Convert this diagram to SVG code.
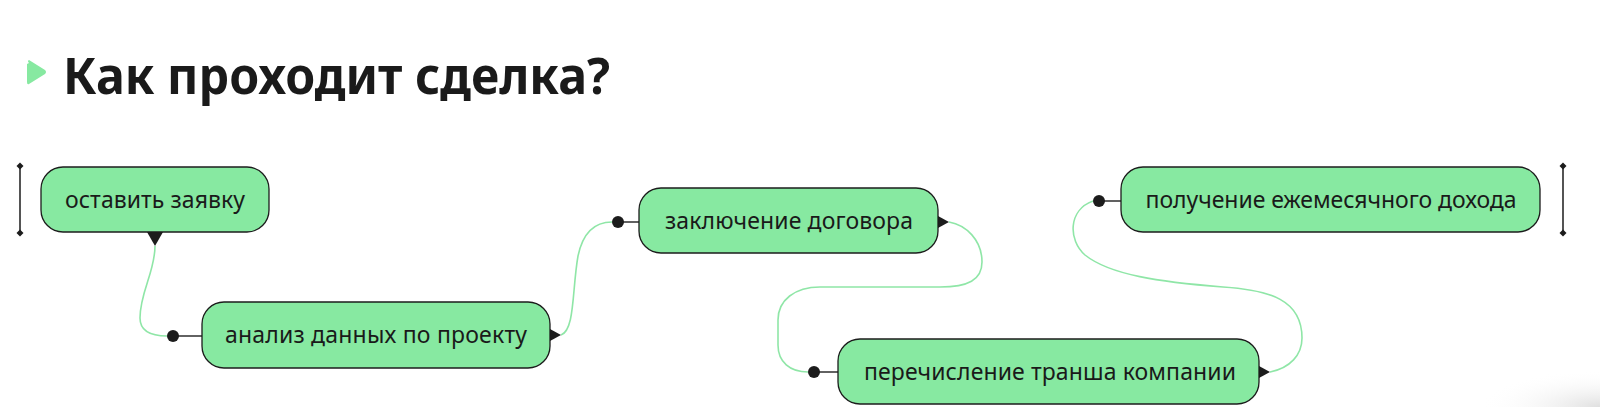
<svg xmlns="http://www.w3.org/2000/svg" width="1600" height="407" viewBox="0 0 1600 407">
<defs>
<style>
.node rect{fill:#87e9a1;stroke:#1c1c1c;stroke-width:1.3}
.node text{font-family:"Noto Sans","DejaVu Sans",sans-serif;font-size:23px;fill:#1a1a1a;text-anchor:middle}
.conn{fill:none;stroke:#8fe6a7;stroke-width:1.6}
.stub{stroke:#3a3a3a;stroke-width:1.6}
.dot{fill:#1c1c1c}
.arr{fill:#1c1c1c}
.br{stroke:#2a2a2a;stroke-width:1.6}
</style>
<path id="diam" d="M0,-3.5 L3.5,0 L0,3.5 L-3.5,0 Z" fill="#1c1c1c"/>
<radialGradient id="shadow" cx="1" cy="1" r="1">
<stop offset="0" stop-color="#dcdcdc" stop-opacity="0.9"/>
<stop offset="1" stop-color="#ffffff" stop-opacity="0"/>
</radialGradient>
</defs>
<rect width="1600" height="407" fill="#ffffff"/>
<rect x="1480" y="370" width="120" height="37" fill="url(#shadow)"/>

<g id="title">
<path d="M29,63 Q27,61 29,60 L45,70 Q47,72 45,74 L29,84 Q27,85 27,82 L27,64 Z" fill="#87e9a1"/>
<text x="63" y="94" font-family="'Noto Sans','DejaVu Sans',sans-serif" font-weight="700" font-size="51" fill="#1a1a1a" textLength="547" lengthAdjust="spacingAndGlyphs">Как проходит сделка?</text>
</g>

<g id="bracket-left">
<line class="br" x1="20" y1="166" x2="20" y2="233"/>
<use href="#diam" x="20" y="166"/>
<use href="#diam" x="20" y="233"/>
</g>
<g id="bracket-right">
<line class="br" x1="1563" y1="166" x2="1563" y2="233"/>
<use href="#diam" x="1563" y="166"/>
<use href="#diam" x="1563" y="233"/>
</g>

<g id="connectors">
<path class="conn" d="M155,246 C155,272 140,292 140,318 C140,332 152,336 167,336"/>
<path class="conn" d="M561,335 C575,330 572,290 578,256 C583,232 595,222 612,222"/>
<path class="conn" d="M949,222 C966,225 982,240 982,262 C982,280 968,287 940,287 L820,287 C795,287 778,300 778,320 L778,345 C778,362 790,372 808,372"/>
<path class="conn" d="M1270,372 C1290,368 1302,355 1302,338 C1302,300 1270,290 1223,287 C1160,282 1110,275 1085,255 C1068,240 1068,210 1093,201"/>
<line class="stub" x1="173" y1="336" x2="202" y2="336"/>
<line class="stub" x1="618" y1="222" x2="639" y2="222"/>
<line class="stub" x1="814" y1="372" x2="838" y2="372"/>
<line class="stub" x1="1099" y1="201" x2="1121" y2="201"/>
<circle class="dot" cx="173" cy="336" r="6"/>
<circle class="dot" cx="618" cy="222" r="6"/>
<circle class="dot" cx="814" cy="372" r="6"/>
<circle class="dot" cx="1099" cy="201" r="6"/>
<polygon class="arr" points="147,232 163,232 155,246"/>
<polygon class="arr" points="550,329 550,341 561,335"/>
<polygon class="arr" points="938,216 938,228 949,222"/>
<polygon class="arr" points="1259,366 1259,378 1270,372"/>
</g>

<g id="node1" class="node">
<rect x="41" y="167" width="228" height="65" rx="22"/>
<text x="155" y="208" textLength="180">оставить заявку</text>
</g>
<g id="node2" class="node">
<rect x="202" y="302" width="348" height="66" rx="22"/>
<text x="376" y="343" textLength="302">анализ данных по проекту</text>
</g>
<g id="node3" class="node">
<rect x="639" y="188" width="299" height="65" rx="22"/>
<text x="789" y="229" textLength="248">заключение договора</text>
</g>
<g id="node4" class="node">
<rect x="838" y="339" width="421" height="65" rx="22"/>
<text x="1050" y="380" textLength="372">перечисление транша компании</text>
</g>
<g id="node5" class="node">
<rect x="1121" y="167" width="419" height="65" rx="22"/>
<text x="1331" y="208" textLength="371">получение ежемесячного дохода</text>
</g>
</svg>
